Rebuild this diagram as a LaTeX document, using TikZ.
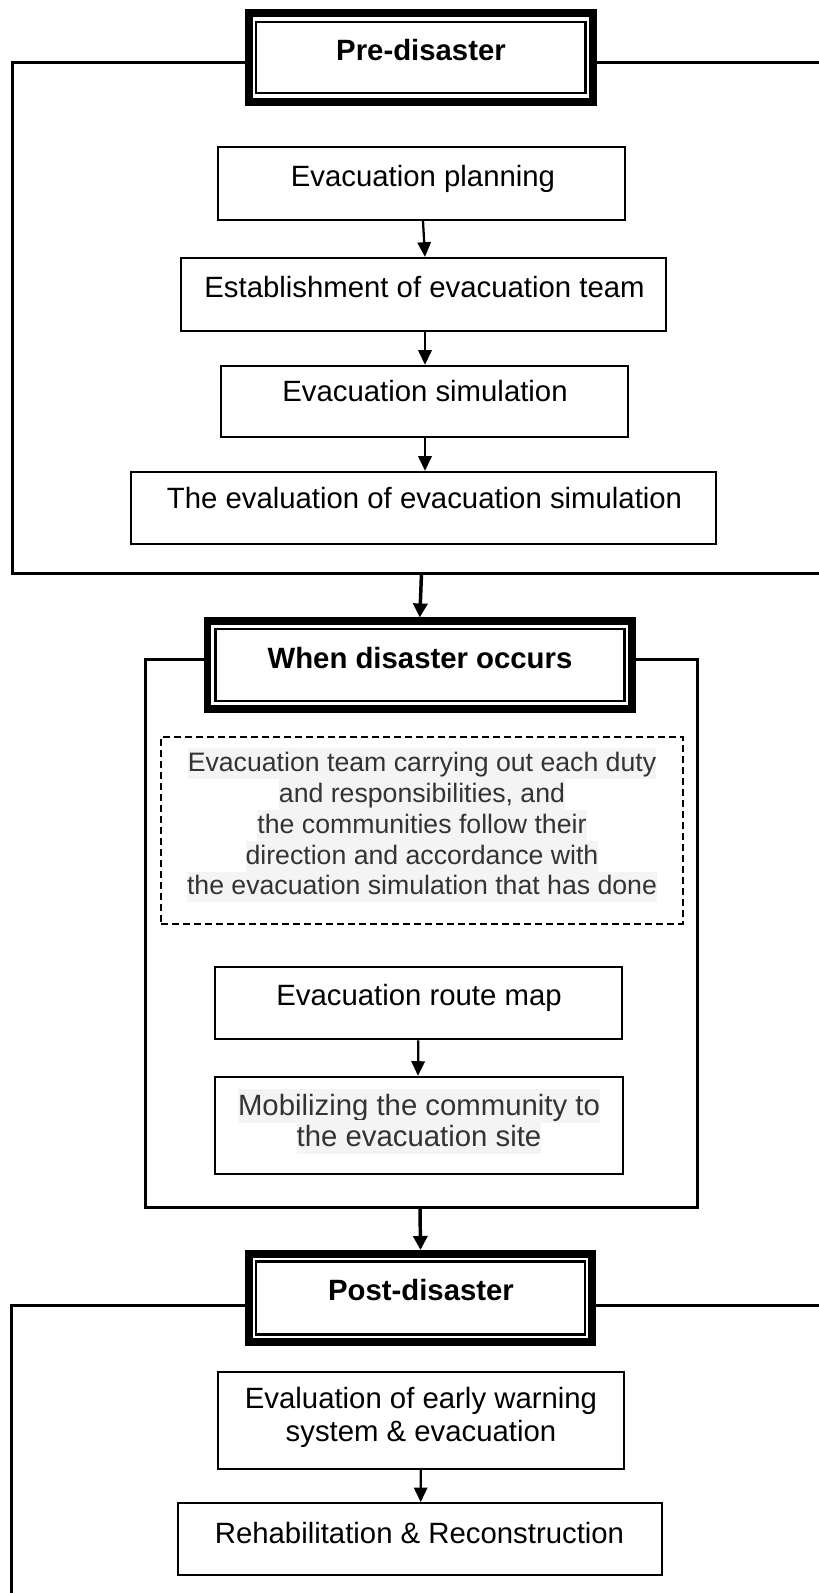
\documentclass[tikz,border=0pt]{standalone}
\usepackage{fontspec}
\setmainfont{Liberation Sans}
\usetikzlibrary{arrows.meta,fit,calc}
\definecolor{hl}{HTML}{F4F4F4}
\definecolor{ink}{HTML}{333333}

\begin{document}
\begin{tikzpicture}[x=0.75pt,y=-0.75pt,
  panel/.style={line width=2.25pt},
  stepbox/.style={draw, line width=1.7pt, inner sep=0pt, fill=white},
  headframe/.style={draw, line width=5.8pt, inner sep=0pt, fill=white},
  headrule/.style={draw, line width=1.6pt, inner sep=0pt},
  dashbox/.style={draw, line width=1.5pt, dash pattern=on 5.25pt off 3pt, inner sep=0pt},
  plain/.style={font=\fontsize{22}{26}\selectfont, inner sep=0pt, anchor=base},
  headtxt/.style={font=\bfseries\fontsize{22}{26}\selectfont, inner sep=0pt, anchor=base},
  shaded/.style={font=\fontsize{20}{24}\selectfont, text=ink, fill=hl, inner sep=0pt,
                 text height=17.55pt, text depth=5.55pt, anchor=base},
  shadedbig/.style={font=\fontsize{22}{26}\selectfont, text=ink, fill=hl, inner sep=0pt,
                 text height=20pt, text depth=5.3pt, anchor=base},
  flow/.style={-{Triangle[width=10pt,length=11pt]}, line width=1.7pt},
  bigflow/.style={-{Triangle[width=10.5pt,length=10.5pt]}, line width=2.6pt}
]
% page
\fill[white] (0,0) rectangle (818,1593);
\useasboundingbox (0,0) rectangle (818,1593);

% ---------------- Pre-disaster panel ----------------
\draw[panel] (250,62) -| (12,573) -- (825,573);
\draw[panel] (590,62) -- (825,62);
\node[headframe, fit={(248.85,12.85) (593.15,102.15)}] (pre) {};
\node[headrule, fit={(256.2,22) (585.5,92.8)}] (preIn) {};
\node[headtxt] (preTxt) at (421,60) {Pre-disaster};

\node[stepbox, fit={(218,147) (625,220)}] (b1) {};
\node[plain] (b1t) at (423,186) {Evacuation planning};
\node[stepbox, fit={(181,258) (666,331)}] (b2) {};
\node[plain] (b2t) at (424.5,297) {Establishment of evacuation team};
\node[stepbox, fit={(221,366) (628,437)}] (b3) {};
\node[plain] (b3t) at (425,401.5) {Evacuation simulation};
\node[stepbox, fit={(131,472) (716,544)}] (b4) {};
\node[plain] (b4t) at (424.5,508) {The evaluation of evacuation simulation};

\draw[flow] ($(b1.south)+(1.5,0)$) -- ($(b2.north)+(1.5,0)$);
\draw[flow] ($(b2.south)+(1.5,0)$) -- ($(b3.north)+(0.5,0)$);
\draw[flow] ($(b3.south)+(0.5,0)$) -- ($(b4.north)+(1.5,0)$);

% ---------------- When disaster occurs panel ----------------
\coordinate (topEnd) at (421.5,573);
\draw[panel] (210,659) -| (145,1207) -| (697,659) -- (630,659);
\node[headframe, fit={(207.6,621.3) (632,709.3)}] (when) {};
\node[headrule, fit={(215.5,629.3) (624.5,700.7)}] (whenIn) {};
\node[headtxt] (whenTxt) at (420,668.3) {When disaster occurs};
\draw[bigflow] (topEnd) -- (when.north);

\node[dashbox, fit={(161.4,737) (682.7,924)}] (duty) {};
\node[shaded] (d1) at (422,771.7) {Evacuation team carrying out each duty};
\node[shaded] (d2) at (422,802.5) {and responsibilities, and};
\node[shaded] (d3) at (422,833.3) {the communities follow their};
\node[shaded] (d4) at (422,864.1) {direction and accordance with};
\node[shaded] (d5) at (422,894.9) {the evacuation simulation that has done};

\node[stepbox, fit={(215,967.3) (621.7,1039.3)}] (route) {};
\node[plain] (routeT) at (419,1005) {Evacuation route map};
\node[stepbox, fit={(215,1077) (623,1174)}] (mob) {};
\node[shadedbig] (m1) at (419,1115.7) {Mobilizing the community to};
\node[shadedbig] (m2) at (419,1146.7) {the evacuation site};
\draw[flow] ($(route.south)+(0,0)$) -- ($(mob.north)+(-1,0)$);

% ---------------- Post-disaster panel ----------------
\coordinate (midEnd) at (420,1207);
\draw[panel] (250,1305) -| (11.5,1600);
\draw[panel] (590,1305) -- (825,1305);
\node[headframe, fit={(248.85,1253.85) (592.15,1342.15)}] (post) {};
\node[headrule, fit={(256.2,1261.5) (584.8,1334.5)}] (postIn) {};
\node[headtxt] (postTxt) at (421,1300.5) {Post-disaster};
\draw[bigflow] (midEnd) -- (post.north);

\node[stepbox, fit={(218.3,1371.7) (624,1469)}] (eval) {};
\node[plain] (e1) at (421,1408.3) {Evaluation of early warning};
\node[plain] (e2) at (421,1441.7) {system \& evacuation};
\node[stepbox, fit={(178.3,1503.3) (661.7,1575)}] (rehab) {};
\node[plain] (rehabT) at (419.5,1543) {Rehabilitation \& Reconstruction};
\draw[flow] ($(eval.south)+(-0.5,0)$) -- ($(rehab.north)+(0.7,0)$);
\end{tikzpicture}
\end{document}
